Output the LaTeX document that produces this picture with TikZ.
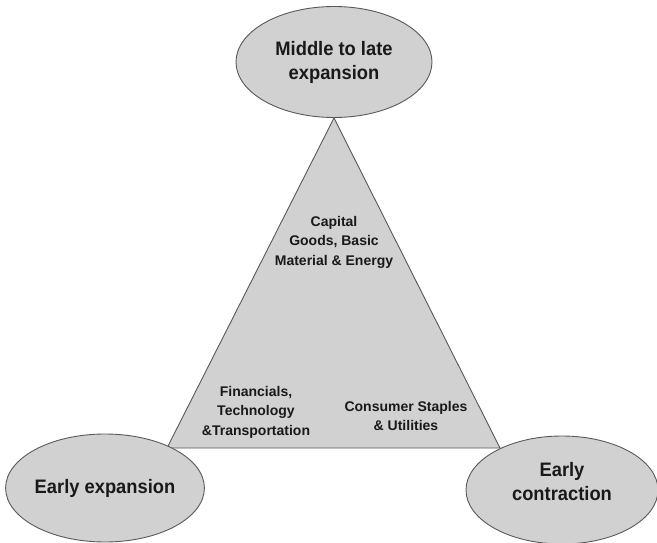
\documentclass[tikz,border=0pt]{standalone}
\usepackage{fontspec}
\setmainfont{Liberation Sans}
\newfontfamily\phasefont{Liberation Sans}[FakeStretch=0.94]
\usetikzlibrary{shapes.geometric}
\definecolor{fillgray}{gray}{0.82}
\definecolor{edgegray}{gray}{0.35}
\definecolor{inkgray}{gray}{0.1}
\tikzset{
  phasetext/.style={align=center, text=inkgray, font=\phasefont\bfseries\fontsize{19.5}{24}\selectfont},
  phase/.style={ellipse, draw=edgegray, line width=0.9pt, fill=fillgray, inner sep=0pt, phasetext},
  sector/.style={align=center, text=inkgray, font=\bfseries\fontsize{14}{19.5}\selectfont},
  tri/.style={draw=edgegray, line width=0.9pt, fill=fillgray}
}
\begin{document}
\begin{tikzpicture}[x=1pt,y=-1pt]
\useasboundingbox (0,0) rectangle (657,543);
\coordinate (apex) at (334,118);
\coordinate (bl) at (167,448);
\coordinate (br) at (500,448);
\draw[tri] (apex) -- (bl) -- (br) -- cycle;
\node[phase, minimum width=196pt, minimum height=111pt] (mid) at (334,62) {Middle to late\\expansion};
\node[phase, minimum width=196pt, minimum height=108pt] (ee) at (105,488) {Early expansion};
\node[phase, minimum width=192pt, minimum height=108pt,
  label={[phasetext, yshift=8pt]center:Early\\contraction}] (ec) at (562,490) {};
\node[sector] (cap) at (334,242) {Capital\\Goods, Basic\\Material \& Energy};
\node[sector] (fin) at (256,412) {Financials,\\Technology\\\&Transportation};
\node[sector] (con) at (406,416) {Consumer Staples\\\& Utilities};
\end{tikzpicture}
\end{document}
